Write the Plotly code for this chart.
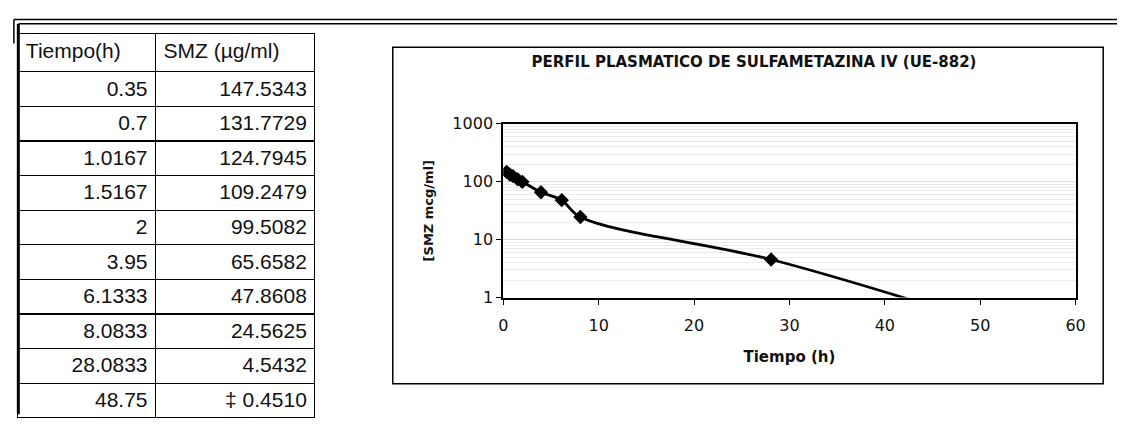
import plotly.graph_objects as go

# Plasma profile of sulfamethazine after IV dose
tiempo_h = [0.35, 0.7, 1.0167, 1.5167, 2, 3.95, 6.1333, 8.0833, 28.0833, 48.75]
smz_ug_ml = [147.5343, 131.7729, 124.7945, 109.2479, 99.5082, 65.6582,
             47.8608, 24.5625, 4.5432, 0.4510]
notas = ["", "", "", "", "", "", "", "", "", "‡ "]

col_headers = ["Tiempo(h)", "SMZ (µg/ml)"]
x_ticks = [0, 10, 20, 30, 40, 50, 60]
y_ticks = [1, 10, 100, 1000]

W, H = 1127, 429


def px(x):
    return x / W


def py(y):
    return 1 - y / H


tiempo_txt = [f"{t:g}" for t in tiempo_h]
smz_txt = [f"{n}{v:.4f}" for n, v in zip(notas, smz_ug_ml)]

INK = "#111111"
tick_font = dict(family="DejaVu Sans", size=16, color=INK)

fig = go.Figure()

# data table on the left
fig.add_trace(go.Table(
    domain=dict(x=[px(13), px(315)], y=[0, py(26)]),
    columnwidth=[140, 162],
    header=dict(
        values=col_headers,
        align=["left", "left"],
        height=38,
        line=dict(color="black", width=1.2),
        fill=dict(color="white"),
        font=dict(family="Liberation Sans", size=21, color=INK),
    ),
    cells=dict(
        values=[tiempo_txt, smz_txt],
        align=["right", "right"],
        height=34.6,
        line=dict(color="black", width=1.2),
        fill=dict(color="white"),
        font=dict(family="Liberation Sans", size=21, color=INK),
    ),
))

# concentration-time curve
fig.add_trace(go.Scatter(
    x=tiempo_h, y=smz_ug_ml,
    mode="lines+markers",
    line=dict(color="black", width=2.8, shape="spline"),
    marker=dict(symbol="diamond", size=11, color="black"),
    cliponaxis=True,
    showlegend=False,
))

fig.update_layout(
    width=W, height=H,
    margin=dict(l=0, r=0, t=0, b=0),
    paper_bgcolor="white",
    plot_bgcolor="white",
    showlegend=False,
    title=dict(
        text="PERFIL PLASMATICO DE SULFAMETAZINA IV (UE-882)",
        x=px(754), y=py(62), xanchor="center", yanchor="middle",
        font=dict(family="DejaVu Sans", size=15, color=INK, weight="bold"),
    ),
    xaxis=dict(
        domain=[px(505), px(1085)],
        range=[0, 60],
        tickvals=x_ticks,
        ticks="outside", ticklen=5, tickcolor="black",
        ticklabelstandoff=7,
        showline=True, mirror=True, linecolor="black", linewidth=2,
        showgrid=False, zeroline=False,
        tickfont=tick_font,
        title=dict(text="Tiempo (h)", standoff=18,
                   font=dict(family="DejaVu Sans", size=15, color=INK,
                             weight="bold")),
    ),
    yaxis=dict(
        domain=[py(302), py(120)],
        type="log",
        range=[0, 3],
        tickvals=y_ticks,
        ticktext=[str(v) for v in y_ticks],
        ticks="outside", ticklen=5, tickcolor="black",
        showline=True, mirror=True, linecolor="black", linewidth=2,
        showgrid=True, gridcolor="#dedede", gridwidth=1,
        minor=dict(showgrid=True, gridcolor="#ececec", gridwidth=1,
                   dtick="D1"),
        zeroline=False,
        tickfont=tick_font,
        title=dict(text="[SMZ mcg/ml]", standoff=16,
                   font=dict(family="DejaVu Sans", size=13, color=INK,
                             weight="bold")),
    ),
    shapes=[
        # chart frame
        dict(type="rect", xref="paper", yref="paper",
             x0=px(393), x1=px(1113), y0=py(392), y1=py(40),
             line=dict(color="black", width=1.5)),
        # outer page frame (double rule along top and left)
        dict(type="line", xref="paper", yref="paper",
             x0=px(9), x1=1, y0=py(11), y1=py(11),
             line=dict(color="black", width=1.5)),
        dict(type="line", xref="paper", yref="paper",
             x0=px(14), x1=1, y0=py(15.5), y1=py(15.5),
             line=dict(color="black", width=1.5)),
        dict(type="line", xref="paper", yref="paper",
             x0=px(9), x1=px(9), y0=py(11), y1=py(36),
             line=dict(color="black", width=1.5)),
        dict(type="line", xref="paper", yref="paper",
             x0=px(13.5), x1=px(13.5), y0=py(15.5), y1=py(424),
             line=dict(color="black", width=3)),
    ],
)

fig.write_html("out.html")
